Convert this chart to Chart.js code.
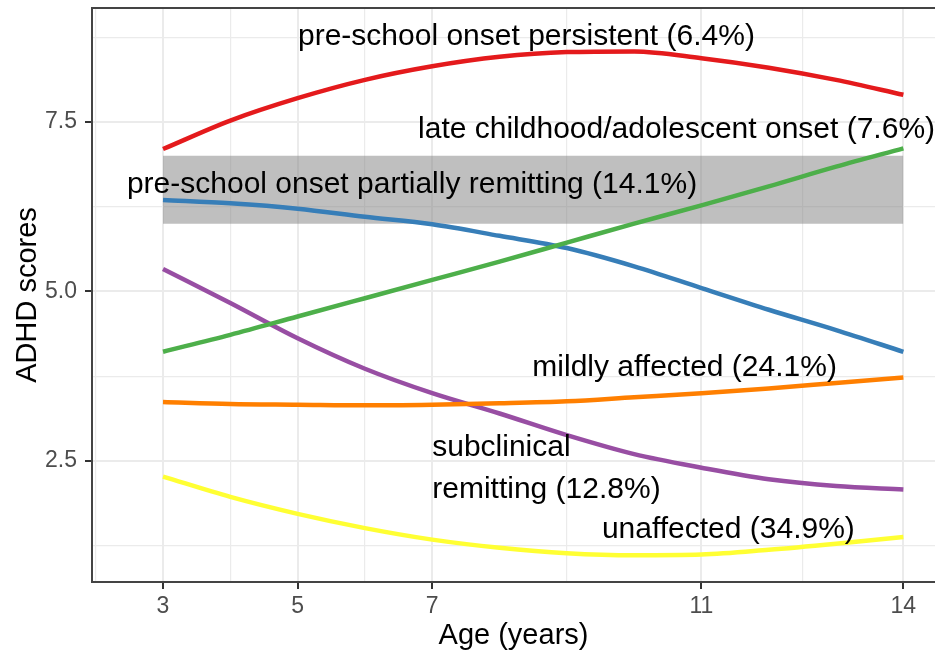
<!DOCTYPE html>
<html>
<head>
<meta charset="utf-8">
<script src="https://cdn.jsdelivr.net/npm/chart.js@4.4.1/dist/chart.umd.min.js"></script>
<style>
  html, body { margin: 0; padding: 0; background: #fff; overflow: hidden; }
</style>
</head>
<body>
<canvas id="graficoTrayectorias" width="935" height="657"></canvas>
<script>
//datos
const ages = [3, 4, 5, 6, 7, 8, 9, 10, 11, 12, 13, 14];
const persistent = [7.10, 7.52, 7.85, 8.12, 8.32, 8.46, 8.53, 8.54, 8.44, 8.30, 8.12, 7.90];
const lateOnset = [4.11, 4.36, 4.63, 4.90, 5.17, 5.44, 5.72, 6.00, 6.27, 6.55, 6.84, 7.11];
const partiallyRemitting = [6.35, 6.30, 6.22, 6.10, 5.99, 5.82, 5.64, 5.37, 5.05, 4.73, 4.43, 4.11];
const mildlyAffected = [3.37, 3.34, 3.33, 3.32, 3.33, 3.35, 3.38, 3.44, 3.50, 3.57, 3.65, 3.73];
const subclinical = [5.33, 4.83, 4.31, 3.86, 3.50, 3.20, 2.88, 2.60, 2.40, 2.23, 2.13, 2.08];
const unaffected = [2.27, 1.97, 1.72, 1.51, 1.34, 1.22, 1.14, 1.11, 1.12, 1.19, 1.28, 1.38];

const bandAges = [3, 14];
const bandTop = [7, 7];
const bandBottom = [6, 6];

const xMajorTicks = [3, 5, 7, 11, 14];
const xMinorTicks = [2, 4, 6, 9, 12.5];
const yMajorTicks = [2.5, 5.0, 7.5];
const yMinorTicks = [1.25, 3.75, 6.25, 8.75];

const labelTexts = ['pre-school onset persistent (6.4%)', 'late childhood/adolescent onset (7.6%)',
    'pre-school onset partially remitting (14.1%)', 'mildly affected (24.1%)',
    'subclinical', 'remitting (12.8%)', 'unaffected (34.9%)'];
const labelX = [8.4, 10.63, 6.7, 10.75, 7.0, 7.0, 11.4];
const labelY = [8.75, 7.38, 6.57, 3.87, 2.69, 2.07, 1.48];
const labelAlign = ['center', 'center', 'center', 'center', 'left', 'left', 'center'];

const FONT = '"Liberation Sans", Arial, sans-serif';

function toPoints(xs, ys) {
    return xs.map((x, i) => ({ x: x, y: ys[i] }));
}

function lineSet(data, color) {
    return {
        data: toPoints(ages, data),
        borderColor: color,
        borderWidth: 4.5,
        pointRadius: 0,
        cubicInterpolationMode: 'monotone',
        fill: false,
        order: 0
    };
}

const isMajor = (list, v) => list.some(m => Math.abs(m - v) < 1e-6);

// etiquetas y borde superior
const labelsPlugin = {
    id: 'labelsPlugin',
    afterDatasetsDraw(chart) {
        const { ctx, chartArea, scales } = chart;
        ctx.save();
        ctx.strokeStyle = '#444';
        ctx.lineWidth = 2;
        ctx.beginPath();
        ctx.moveTo(chartArea.left, chartArea.top);
        ctx.lineTo(chartArea.right, chartArea.top);
        ctx.stroke();

        ctx.fillStyle = '#000';
        ctx.font = '30px ' + FONT;
        ctx.textBaseline = 'middle';
        labelTexts.forEach((t, i) => {
            ctx.textAlign = labelAlign[i];
            ctx.fillText(t, scales.x.getPixelForValue(labelX[i]), scales.y.getPixelForValue(labelY[i]));
        });
        ctx.restore();
    }
};

const ctxTray = document.getElementById('graficoTrayectorias');

let trayectoriasChart = new Chart(ctxTray, {
    type: 'line',
    data: {
        datasets: [
            lineSet(persistent, '#E41A1C'),
            lineSet(lateOnset, '#4DAF4A'),
            lineSet(partiallyRemitting, '#377EB8'),
            lineSet(mildlyAffected, '#FF7F00'),
            lineSet(subclinical, '#984EA3'),
            lineSet(unaffected, '#FFFF33'),
            {
                data: toPoints(bandAges, bandTop),
                borderWidth: 0,
                pointRadius: 0,
                backgroundColor: 'rgba(127,127,127,0.5)',
                fill: '+1',
                order: 10
            },
            {
                data: toPoints(bandAges, bandBottom),
                borderWidth: 0,
                pointRadius: 0,
                fill: false,
                order: 10
            }
        ]
    },
    options: {
        responsive: false,
        animation: false,
        devicePixelRatio: 1,
        layout: { padding: { top: 8, left: 0, right: 0, bottom: 0 } },
        plugins: {
            legend: { display: false },
            tooltip: { enabled: false }
        },
        scales: {
            x: {
                type: 'linear',
                min: 1.945,
                max: 14.47,
                afterBuildTicks(scale) {
                    scale.ticks = xMinorTicks.concat(xMajorTicks).sort((a, b) => a - b).map(v => ({ value: v }));
                },
                afterFit(scale) {
                    scale.height = 75;
                    scale.paddingLeft = 0;
                    scale.paddingRight = 0;
                },
                ticks: {
                    autoSkip: false,
                    maxRotation: 0,
                    padding: 4,
                    color: '#4D4D4D',
                    font: { family: FONT, size: 23 },
                    callback: (v) => isMajor(xMajorTicks, v) ? String(v) : ''
                },
                grid: {
                    color: '#EBEBEB',
                    lineWidth: (c) => c.tick && isMajor(xMajorTicks, c.tick.value) ? 2 : 1.2,
                    tickColor: (c) => c.tick && isMajor(xMajorTicks, c.tick.value) ? '#333' : 'rgba(0,0,0,0)',
                    tickWidth: 2,
                    tickLength: 7
                },
                border: { display: true, color: '#444', width: 2 },
                title: {
                    display: true,
                    text: 'Age (years)',
                    color: '#000',
                    font: { family: FONT, size: 29 },
                    padding: { top: 0, bottom: 4 }
                }
            },
            y: {
                type: 'linear',
                min: 0.715,
                max: 9.18,
                afterBuildTicks(scale) {
                    scale.ticks = yMinorTicks.concat(yMajorTicks).sort((a, b) => a - b).map(v => ({ value: v }));
                },
                afterFit(scale) {
                    scale.width = 92;
                    scale.paddingTop = 0;
                    scale.paddingBottom = 0;
                },
                ticks: {
                    autoSkip: false,
                    padding: 8,
                    color: '#4D4D4D',
                    font: { family: FONT, size: 23 },
                    callback: (v) => isMajor(yMajorTicks, v) ? v.toFixed(1) : ''
                },
                grid: {
                    color: '#EBEBEB',
                    lineWidth: (c) => c.tick && isMajor(yMajorTicks, c.tick.value) ? 2 : 1.2,
                    tickColor: (c) => c.tick && isMajor(yMajorTicks, c.tick.value) ? '#333' : 'rgba(0,0,0,0)',
                    tickWidth: 2,
                    tickLength: 7
                },
                border: { display: true, color: '#444', width: 2 },
                title: {
                    display: true,
                    text: 'ADHD scores',
                    color: '#000',
                    font: { family: FONT, size: 29 },
                    padding: { top: 11, bottom: 0 }
                }
            }
        }
    },
    plugins: [labelsPlugin]
});
//termina grafico
</script>
</body>
</html>
